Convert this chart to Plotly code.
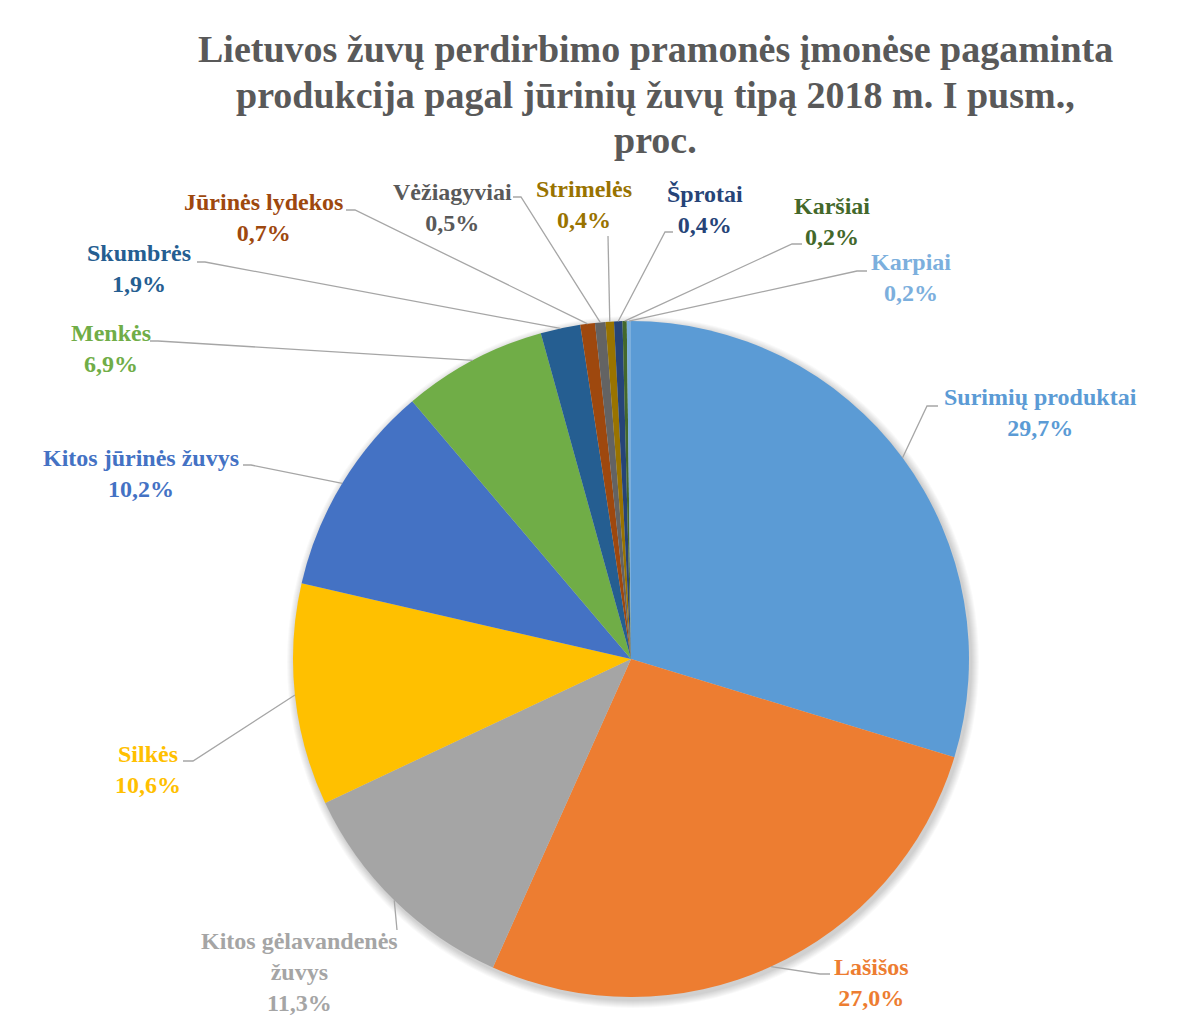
import math
import plotly.graph_objects as go

# ---- data ----
categories = ["Surimių produktai", "Lašišos", "Kitos gėlavandenės<br>žuvys", "Silkės",
              "Kitos jūrinės žuvys", "Menkės", "Skumbrės", "Jūrinės lydekos",
              "Vėžiagyviai", "Strimelės", "Šprotai", "Karšiai", "Karpiai"]
values = [29.7, 27.0, 11.3, 10.6, 10.2, 6.9, 1.9, 0.7, 0.5, 0.4, 0.4, 0.2, 0.2]
title_lines = ["Lietuvos žuvų perdirbimo pramonės įmonėse pagaminta",
               "produkcija pagal jūrinių žuvų tipą 2018 m. I pusm.,",
               "proc."]

# ---- styles / layout ----
OFF = 8  # default page body margin
W, H = 1185 - OFF, 1020 - OFF
slice_colors = ["#5B9BD5", "#ED7D31", "#A5A5A5", "#FFC000", "#4472C4", "#70AD47",
                "#255E91", "#9E480E", "#636363", "#997300", "#264478", "#43682B", "#7CAFDD"]
label_colors = ["#5B9BD5", "#ED7D31", "#A5A5A5", "#FFC000", "#4472C4", "#70AD47",
                "#255E91", "#9E480E", "#595959", "#997300", "#264478", "#43682B", "#7CAFDD"]
# label block centres (window pixels)
label_pos = [(1040, 412), (871, 982), (299, 972), (148, 769), (141, 473), (111, 348),
             (139, 269), (263, 217), (452, 208), (584, 204), (705, 210), (832, 221), (911, 277)]
# leader line points near the label (window pixels)
leader_pts = [
    [(938, 406), (927, 406)],
    [(830, 974), (820, 974)],
    [(397, 930)],
    [(183, 761), (193, 761)],
    [(243, 465), (251, 465)],
    [(150, 341), (158, 341)],
    [(197, 262), (205, 262)],
    [(346, 210), (355, 210)],
    [(513, 197), (521, 197)],
    [(608, 236)],
    [(673, 232), (665, 232)],
    [(802, 244), (792, 244)],
    [(867, 271), (857, 271)],
]
CX, CY, R = 631, 659, 338
FONT = "Liberation Serif, Times New Roman, serif"


def px(x):
    return (x - OFF) / W


def py(y):
    return 1 - (y - OFF) / H


fig = go.Figure()
fig.add_trace(go.Pie(
    labels=categories, values=values, sort=False, direction="clockwise", rotation=0,
    marker=dict(colors=slice_colors, line=dict(width=0)),
    textinfo="none", hoverinfo="label+percent", showlegend=False,
    domain=dict(x=[px(CX - R), px(CX + R)], y=[py(CY + R), py(CY - R)]),
))

shapes = []
# soft shadow around the pie
for k in range(1, 9):
    rr = R + k
    shapes.append(dict(type="circle", xref="paper", yref="paper", layer="below",
                       x0=px(CX - rr + 2), x1=px(CX + rr + 2),
                       y0=py(CY + rr + 3), y1=py(CY - rr + 3),
                       fillcolor="rgba(0,0,0,0.025)", line=dict(width=0)))

annotations = []
total = sum(values)
cum = 0.0
for i, (name, v) in enumerate(zip(categories, values)):
    mid = (cum + v / 2) / total
    cum += v
    th = 2 * math.pi * mid
    ex, ey = CX + R * math.sin(th), CY - R * math.cos(th)
    pts = leader_pts[i] + [(ex, ey)]
    path = "M " + " L ".join(f"{px(x):.5f},{py(y):.5f}" for x, y in pts)
    shapes.append(dict(type="path", xref="paper", yref="paper", path=path,
                       line=dict(color="#A6A6A6", width=1.3)))
    pct = f"{v:.1f}".replace(".", ",") + "%"
    txt = "<br>".join(f"<b>{part}</b>" for part in name.split("<br>")) + f"<br><b>{pct}</b>"
    lx, ly = label_pos[i]
    annotations.append(dict(x=px(lx), y=py(ly), xref="paper", yref="paper",
                            xanchor="center", yanchor="middle", showarrow=False,
                            text=txt, align="center",
                            font=dict(family=FONT, size=24, color=label_colors[i])))

title_y = [49, 95, 140]
for line, ty in zip(title_lines, title_y):
    annotations.append(dict(x=px(655), y=py(ty), xref="paper", yref="paper",
                            xanchor="center", yanchor="middle", showarrow=False,
                            text=f"<b>{line}</b>",
                            font=dict(family=FONT, size=38, color="#595959")))

fig.update_layout(
    width=W, height=H, margin=dict(l=0, r=0, t=0, b=0),
    paper_bgcolor="white", plot_bgcolor="white",
    shapes=shapes, annotations=annotations,
)
fig.write_html("out.html")
